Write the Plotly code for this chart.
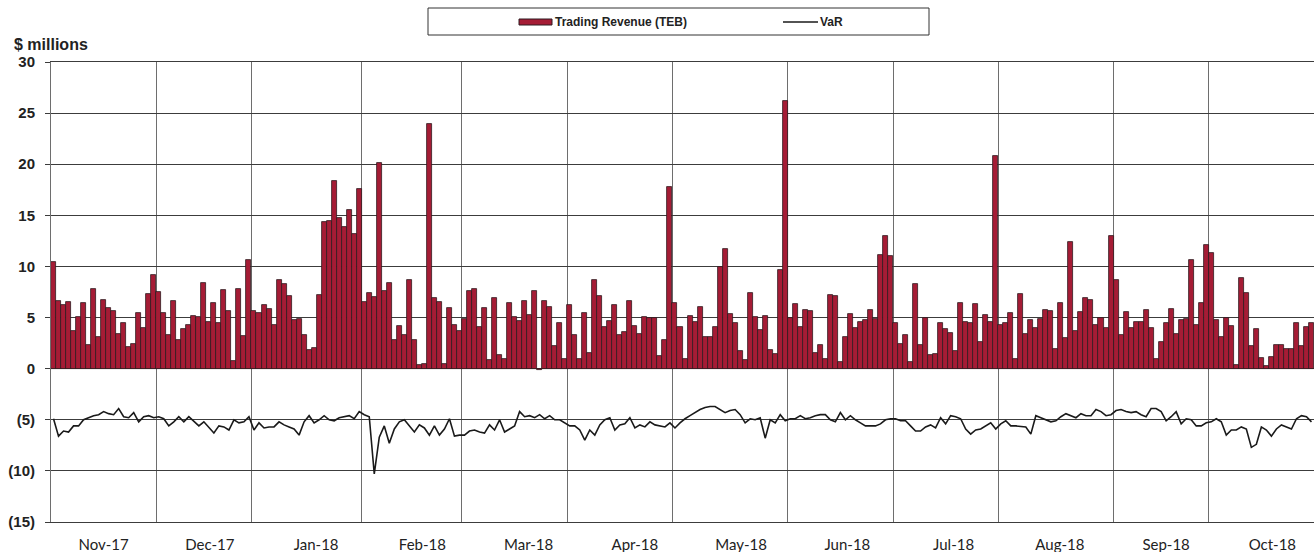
import plotly.graph_objects as go

# ---------------- data ----------------
months = ["Nov-17", "Dec-17", "Jan-18", "Feb-18", "Mar-18", "Apr-18",
          "May-18", "Jun-18", "Jul-18", "Aug-18", "Sep-18", "Oct-18"]
# number of trading days (bars) per month
month_counts = [21, 19, 22, 20, 21, 21, 23, 21, 21, 23, 19, 21]

revenue_nov = [10.4, 6.6, 6.2, 6.5, 3.7, 5.1, 6.4, 2.3, 7.8, 3.1, 6.75, 5.9, 5.6, 3.4, 4.5, 2.1, 2.4, 5.4, 4.0, 7.3, 9.2]
revenue_dec = [7.5, 5.4, 3.3, 6.6, 2.8, 3.9, 4.3, 5.2, 5.1, 8.4, 4.6, 6.4, 4.45, 7.65, 5.6, 0.75, 7.8, 3.15, 10.6]
revenue_jan = [5.6, 5.4, 6.2, 5.8, 4.3, 8.7, 8.3, 7.1, 4.8, 4.9, 3.3, 1.85, 2.0, 7.2, 14.3, 14.45, 18.4, 14.7, 13.9, 15.5, 13.15, 17.6]
revenue_feb = [6.5, 7.45, 7.0, 20.1, 7.55, 8.4, 2.8, 4.2, 3.3, 8.7, 2.8, 0.4, 0.5, 23.9, 6.9, 6.5, 0.45, 5.9, 4.3, 3.7]
revenue_mar = [4.9, 7.6, 7.8, 4.05, 5.9, 0.85, 6.9, 1.3, 0.95, 6.4, 5.1, 4.7, 6.65, 5.25, 7.55, -0.15, 6.65, 6.05, 2.25, 4.45, 0.9]
revenue_apr = [6.2, 3.3, 0.9, 5.4, 1.55, 8.7, 7.1, 4.05, 4.7, 6.2, 3.3, 3.55, 6.6, 4.2, 3.4, 5.1, 5.0, 5.0, 1.25, 2.8, 17.8]
revenue_may = [6.4, 4.05, 0.95, 5.2, 4.55, 6.05, 3.05, 3.05, 4.05, 9.95, 11.75, 5.3, 4.45, 1.7, 0.8, 7.45, 5.1, 3.75, 5.2, 1.85, 1.4, 9.65, 26.2]
revenue_jun = [5.0, 6.3, 4.05, 5.75, 5.6, 1.5, 2.3, 0.95, 7.2, 7.1, 0.7, 3.05, 5.3, 3.95, 4.55, 4.75, 5.75, 4.9, 11.15, 13.0, 11.05]
revenue_jul = [4.45, 2.45, 3.3, 0.7, 8.3, 2.35, 5.0, 1.3, 1.45, 4.45, 3.9, 3.5, 1.75, 6.4, 4.55, 4.45, 6.3, 2.6, 5.25, 4.6, 20.85]
revenue_aug = [4.3, 4.45, 5.4, 0.9, 7.35, 3.4, 4.75, 3.95, 4.85, 5.7, 5.6, 1.9, 6.4, 3.0, 12.35, 3.65, 5.5, 6.9, 6.75, 4.3, 5.0, 3.95, 12.95]
revenue_sep = [8.65, 3.3, 5.5, 3.95, 4.6, 4.55, 5.7, 3.95, 0.95, 2.6, 4.45, 5.8, 3.4, 4.8, 4.9, 10.6, 4.3, 6.4, 12.1]
revenue_oct = [11.3, 4.8, 3.05, 5.0, 4.2, 0.35, 8.85, 7.45, 2.2, 3.85, 1.05, 0.3, 1.15, 2.35, 2.35, 1.9, 1.9, 4.45, 2.2, 4.05, 4.45]

var_nov = [-4.9, -6.6, -6.1, -6.2, -5.6, -5.6, -5.0, -4.8, -4.6, -4.5, -4.2, -4.4, -4.5, -3.9, -4.7, -4.8, -4.3, -5.2, -4.7, -4.6, -4.8]
var_dec = [-4.7, -4.9, -5.6, -5.2, -4.7, -5.2, -4.7, -5.2, -5.6, -5.2, -5.8, -6.3, -5.6, -5.7, -6.0, -5.0, -5.3, -5.2, -4.7]
var_jan = [-6.0, -5.3, -5.8, -5.7, -5.7, -5.2, -5.5, -5.7, -5.9, -6.5, -5.2, -4.6, -5.3, -5.0, -4.6, -5.0, -5.1, -4.8, -4.7, -4.6, -4.9, -4.2]
var_feb = [-4.5, -4.7, -10.3, -6.7, -5.6, -7.3, -5.9, -5.2, -5.0, -5.6, -6.2, -5.5, -5.8, -6.5, -5.6, -6.5, -5.9, -4.9, -6.6, -6.5]
var_mar = [-6.5, -6.1, -6.0, -6.2, -6.3, -5.5, -6.0, -5.0, -6.2, -5.9, -5.6, -4.2, -4.7, -4.6, -4.8, -4.5, -4.9, -4.6, -5.0, -5.0, -5.3]
var_apr = [-5.6, -5.6, -6.0, -7.0, -6.0, -6.5, -5.5, -5.0, -4.8, -6.0, -5.5, -5.4, -4.8, -5.8, -5.5, -5.7, -5.2, -5.5, -5.6, -5.7, -5.3]
var_may = [-5.8, -5.3, -4.9, -4.6, -4.3, -4.0, -3.8, -3.7, -3.7, -4.0, -4.3, -4.1, -4.0, -4.5, -5.3, -4.9, -5.0, -4.8, -6.8, -5.0, -5.3, -4.5, -5.1]
var_jun = [-4.9, -4.9, -4.6, -4.9, -4.8, -4.6, -4.5, -4.5, -5.0, -5.2, -4.3, -5.0, -4.6, -5.0, -5.3, -5.6, -5.6, -5.6, -5.4, -5.0, -4.9]
var_jul = [-4.9, -5.1, -5.1, -5.6, -6.1, -6.1, -5.7, -5.5, -5.8, -4.8, -5.4, -4.6, -4.7, -4.9, -5.9, -6.4, -6.0, -5.9, -5.6, -5.3, -5.9]
var_aug = [-5.4, -5.1, -5.6, -5.6, -5.65, -5.7, -6.4, -4.6, -4.8, -5.0, -5.2, -5.1, -4.7, -4.4, -4.6, -4.8, -4.4, -4.6, -4.6, -4.0, -4.2, -4.6, -4.5]
var_sep = [-4.1, -4.0, -4.2, -4.3, -4.2, -4.5, -4.7, -3.9, -3.9, -4.2, -5.1, -4.7, -4.2, -5.4, -4.9, -5.0, -5.6, -5.6, -5.3]
var_oct = [-5.2, -4.9, -5.2, -6.5, -6.0, -6.0, -5.7, -5.9, -7.7, -7.4, -5.7, -6.0, -6.6, -5.9, -5.5, -5.7, -5.9, -4.9, -4.6, -4.7, -5.2]

y_ticks = [30, 25, 20, 15, 10, 5, 0, -5, -10, -15]
y_tick_text = ["30", "25", "20", "15", "10", "5", "0", "(5)", "(10)", "(15)"]

# ---------------- assemble ----------------
revenue = (revenue_nov + revenue_dec + revenue_jan + revenue_feb + revenue_mar + revenue_apr +
           revenue_may + revenue_jun + revenue_jul + revenue_aug + revenue_sep + revenue_oct)
var = (var_nov + var_dec + var_jan + var_feb + var_mar + var_apr +
       var_may + var_jun + var_jul + var_aug + var_sep + var_oct)
n = len(revenue)
x = list(range(n))

# month boundaries (vertical grid) and label positions
bounds = []
acc = 0
for c in month_counts[:-1]:
    acc += c
    bounds.append(acc - 0.5)
label_step = n / len(months) * 1.0095
label_pos = [10 + label_step * k for k in range(len(months))]

# body margin is removed by post_script, so the figure fills the window
W, H = 1314, 552
ML, MR, MT, MB = 51, 0, 62, 30
PW, PH = W - ML - MR, H - MT - MB


def px(xp):  # page pixel -> paper x
    return (xp - ML) / PW


def py(yp):  # page pixel -> paper y
    return (H - MB - yp) / PH


BAR_COLOR = "#A51C35"
GRID_H = "#3c3c3c"
GRID_V = "#6e6e6e"

fig = go.Figure()
fig.add_trace(go.Bar(
    x=x, y=revenue, name="Trading Revenue (TEB)",
    marker=dict(color=BAR_COLOR, line=dict(color="#2f1b20", width=0.8)),
    showlegend=False, hoverinfo="y"))
fig.add_trace(go.Scatter(
    x=x, y=var, name="VaR", mode="lines",
    line=dict(color="#1a1a1a", width=1.6), showlegend=False, hoverinfo="y"))

legend_font = dict(family="Liberation Sans, Arial, sans-serif", size=12, color="#222", weight="bold")
shapes = [
    # legend frame
    dict(type="rect", xref="paper", yref="paper", x0=px(428), x1=px(929), y0=py(35), y1=py(8),
         line=dict(color="#333", width=1), fillcolor="white", layer="above"),
    # bar swatch
    dict(type="rect", xref="paper", yref="paper", x0=px(519), x1=px(552), y0=py(25), y1=py(19),
         line=dict(color="#2f1b20", width=1), fillcolor=BAR_COLOR, layer="above"),
    # line swatch
    dict(type="line", xref="paper", yref="paper", x0=px(783), x1=px(818), y0=py(22), y1=py(22),
         line=dict(color="#1a1a1a", width=1.6), layer="above"),
]
annotations = [
    dict(text="Trading Revenue (TEB)", xref="paper", yref="paper", x=px(553), y=py(22),
         xanchor="left", yanchor="middle", showarrow=False, font=legend_font),
    dict(text="VaR", xref="paper", yref="paper", x=px(818), y=py(22),
         xanchor="left", yanchor="middle", showarrow=False, font=legend_font),
    dict(text="$ millions", xref="paper", yref="paper", x=px(12), y=py(44),
         xanchor="left", yanchor="middle", showarrow=False,
         font=dict(family="Liberation Sans, Arial, sans-serif", size=16, color="#222", weight="bold")),
]

fig.update_layout(
    width=W, height=H,
    margin=dict(l=ML, r=MR, t=MT, b=MB, pad=0),
    paper_bgcolor="white", plot_bgcolor="white",
    bargap=0, showlegend=False, hovermode=False,
    shapes=shapes, annotations=annotations,
    xaxis=dict(
        range=[-0.5, n - 0.5], tickmode="array", tickvals=label_pos, ticktext=months,
        showgrid=False, zeroline=False, ticks="",
        showline=True, linecolor=GRID_H, linewidth=1, mirror=True,
        tickfont=dict(family="Lato, Carlito, Calibri, sans-serif", size=15, color="#222"),
        ticklabelstandoff=9,
        minor=dict(tickmode="array", tickvals=bounds, showgrid=True,
                   gridcolor=GRID_V, gridwidth=1, ticks=""),
    ),
    yaxis=dict(
        range=[-15, 30], tickmode="array", tickvals=y_ticks, ticktext=y_tick_text,
        showgrid=True, gridcolor=GRID_H, gridwidth=1,
        zeroline=True, zerolinecolor=GRID_H, zerolinewidth=1,
        ticks="outside", ticklen=5, tickcolor=GRID_H,
        showline=True, linecolor=GRID_V, linewidth=1,
        tickfont=dict(family="Liberation Sans, Arial, sans-serif", size=15, color="#222", weight="bold"),
        ticklabelstandoff=7,
    ),
)

fig.write_html(
    "out.html",
    config={"displayModeBar": False},
    post_script="document.body.style.margin='0';document.body.style.overflow='hidden';"
                "document.documentElement.style.overflow='hidden';",
)
